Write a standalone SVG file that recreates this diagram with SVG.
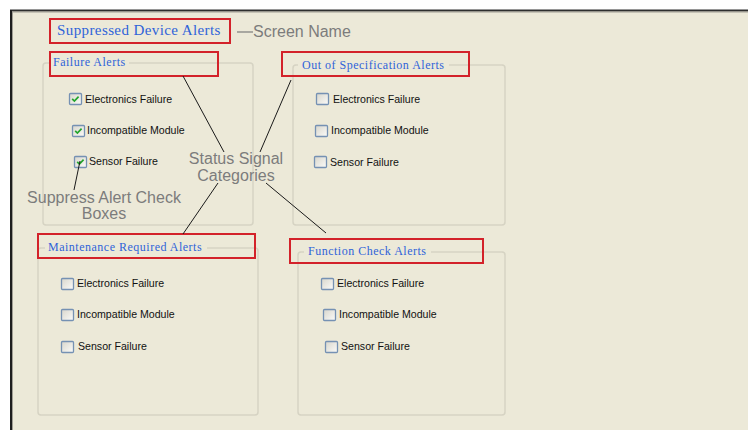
<svg xmlns="http://www.w3.org/2000/svg" width="748" height="430" viewBox="0 0 748 430">
<defs>
<linearGradient id="cbfill" x1="0" y1="0" x2="1" y2="1">
<stop offset="0" stop-color="#d8d6cc"/>
<stop offset="1" stop-color="#fbfbf9"/>
</linearGradient>
<g id="cb"><rect x="0.5" y="0.5" width="12" height="11" rx="1" fill="url(#cbfill)" stroke="#7591b3" stroke-width="1.3"/></g>
<g id="cbc"><use href="#cb"/><path d="M3.2 5.8 L5.4 8 L9.6 3.6" fill="none" stroke="#22a52c" stroke-width="1.7"/></g>
</defs>
<style>
.title{font-family:"Liberation Serif","Times New Roman",serif;fill:#2f63d9;letter-spacing:0.5px}
.item{font-family:"Liberation Sans",Arial,sans-serif;font-size:10.6px;fill:#111}
.note{font-family:"Liberation Sans",Arial,sans-serif;font-size:16px;fill:#7c7c7c}
.grp{fill:none;stroke:#d6d3c3;stroke-width:1.5}
.mask{fill:#ece9d8}
.red{fill:none;stroke:#d3222a;stroke-width:2}
.conn{stroke:#1a1a1a;stroke-width:1;fill:none}
</style>
<rect x="0" y="0" width="748" height="430" fill="#ffffff"/>
<rect x="11" y="10" width="737" height="420" fill="#ece9d8"/>
<line x1="10" y1="10.5" x2="748" y2="10.5" stroke="#2e2e2e" stroke-width="2"/>
<line x1="12" y1="12" x2="748" y2="12" stroke="#a09e94" stroke-width="1"/>
<line x1="11" y1="10" x2="11" y2="430" stroke="#1e1e1e" stroke-width="2"/>
<line x1="12.5" y1="12" x2="12.5" y2="430" stroke="#a09e94" stroke-width="1"/>

<g id="screen-name">
<text class="title" x="57" y="35" style="font-size:15px;letter-spacing:0.4px">Suppressed Device Alerts</text>
<rect class="red" x="50" y="19" width="180" height="24"/>
<line x1="237" y1="32" x2="253" y2="32" stroke="#7c7c7c" stroke-width="1.2"/>
<text class="note" x="253" y="37">Screen Name</text>
</g>

<g id="failure-alerts">
<rect class="grp" x="43" y="63" width="210" height="162" rx="3"/>
<rect class="mask" x="50" y="58" width="79" height="10"/>
<text class="title" x="53" y="66" style="font-size:12px">Failure Alerts</text>
<rect class="red" x="50" y="52" width="168" height="24"/>
<use href="#cbc" x="69" y="93"/>
<text class="item" x="85" y="103">Electronics Failure</text>
<use href="#cbc" x="72" y="125"/>
<text class="item" x="87" y="134">Incompatible Module</text>
<use href="#cbc" x="74" y="156"/>
<text class="item" x="89" y="165">Sensor Failure</text>
</g>

<g id="oos-alerts">
<rect class="grp" x="293" y="65" width="212" height="160" rx="3"/>
<rect class="mask" x="298" y="60" width="151" height="10"/>
<text class="title" x="302" y="69" style="font-size:12px">Out of Specification Alerts</text>
<rect class="red" x="282" y="52" width="187" height="24"/>
<use href="#cb" x="316" y="93"/>
<text class="item" x="333" y="103">Electronics Failure</text>
<use href="#cb" x="315" y="125"/>
<text class="item" x="331" y="134">Incompatible Module</text>
<use href="#cb" x="314" y="156"/>
<text class="item" x="330" y="166">Sensor Failure</text>
</g>

<g id="maintenance-alerts">
<rect class="grp" x="38" y="248" width="220" height="167" rx="3"/>
<rect class="mask" x="45" y="243" width="162" height="10"/>
<text class="title" x="48" y="251" style="font-size:12px">Maintenance Required Alerts</text>
<rect class="red" x="38" y="234" width="217" height="24"/>
<use href="#cb" x="61" y="278"/>
<text class="item" x="77" y="287">Electronics Failure</text>
<use href="#cb" x="61" y="309"/>
<text class="item" x="77" y="318">Incompatible Module</text>
<use href="#cb" x="61" y="341"/>
<text class="item" x="78" y="350">Sensor Failure</text>
</g>

<g id="function-check-alerts">
<rect class="grp" x="298" y="252" width="207" height="163" rx="3"/>
<rect class="mask" x="304" y="247" width="127" height="10"/>
<text class="title" x="308" y="255" style="font-size:12px">Function Check Alerts</text>
<rect class="red" x="290" y="239" width="193" height="24"/>
<use href="#cb" x="321" y="278"/>
<text class="item" x="337" y="287">Electronics Failure</text>
<use href="#cb" x="323" y="309"/>
<text class="item" x="339" y="318">Incompatible Module</text>
<use href="#cb" x="325" y="341"/>
<text class="item" x="341" y="350">Sensor Failure</text>
</g>

<g id="status-signal-note">
<text class="note" x="236" y="164" text-anchor="middle">Status Signal</text>
<text class="note" x="236" y="181" text-anchor="middle">Categories</text>
</g>

<g id="check-boxes-note">
<text class="note" x="104" y="203" text-anchor="middle">Suppress Alert Check</text>
<text class="note" x="104" y="219" text-anchor="middle">Boxes</text>
</g>

<g id="connectors">
<line class="conn" x1="183" y1="76" x2="224" y2="152"/>
<line class="conn" x1="291" y1="80" x2="260" y2="152"/>
<line class="conn" x1="218" y1="183" x2="183" y2="234"/>
<line class="conn" x1="266" y1="183" x2="326" y2="233"/>
<line class="conn" x1="80" y1="161" x2="74" y2="190"/>
</g>
</svg>
